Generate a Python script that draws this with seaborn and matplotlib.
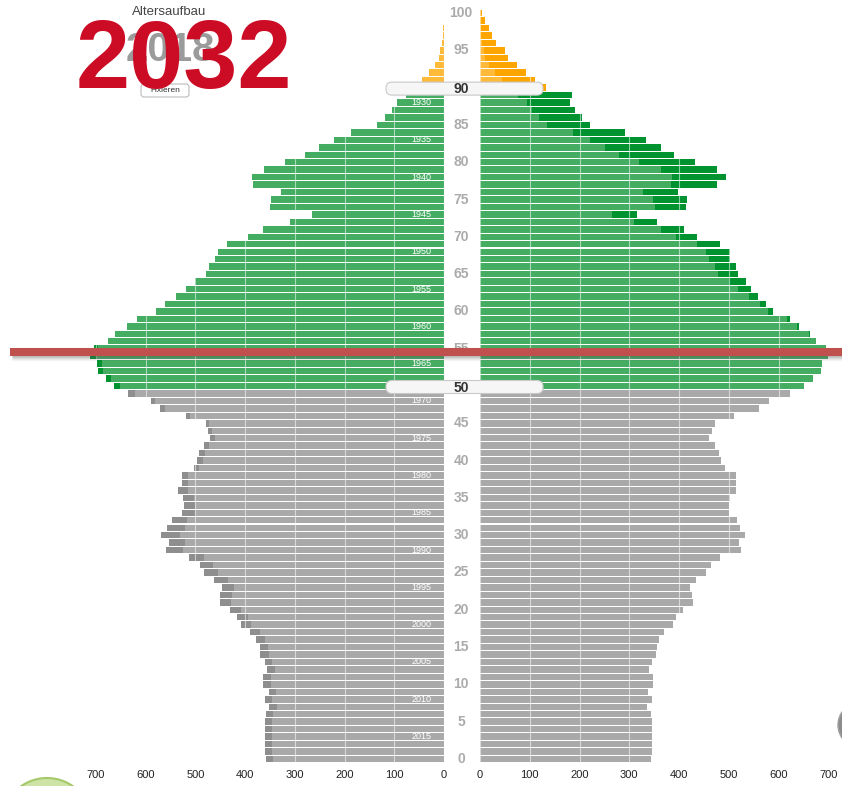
import numpy as np
import pandas as pd
import seaborn as sns
import matplotlib.pyplot as plt
from matplotlib.patches import FancyBboxPatch, Circle
from matplotlib import transforms

# Alter 0..100, Werte in Tausend (links Männer, rechts Frauen)
ages = list(range(0, 101))
men = [359, 360, 360, 361, 360, 360, 359, 352, 360, 353,
       364, 364, 357, 361, 371, 371, 379, 391, 409, 416,
       430, 450, 451, 446, 462, 482, 491, 512, 560, 553,
       569, 558, 547, 528, 524, 525, 536, 528, 528, 503,
       496, 492, 482, 470, 475, 478, 519, 571, 590, 635,
       664, 680, 697, 698, 712, 704, 676, 662, 637, 617,
       579, 562, 540, 518, 500, 478, 472, 460, 454, 436,
       394, 364, 310, 266, 351, 348, 328, 384, 386, 363,
       319, 280, 251, 222, 187, 135, 118, 105, 95, 76,
       58, 45, 31, 18, 11, 8, 5, 3, 3, 1, 1]
women = [343, 345, 345, 345, 345, 345, 343, 336, 345, 338,
         348, 347, 340, 345, 353, 355, 360, 370, 388, 394,
         408, 428, 426, 423, 435, 455, 464, 482, 525, 520,
         532, 522, 517, 500, 500, 502, 514, 514, 515, 492,
         485, 481, 473, 461, 467, 472, 511, 561, 581, 622,
         651, 669, 686, 688, 699, 696, 675, 664, 641, 622,
         588, 574, 559, 544, 535, 518, 515, 503, 502, 482,
         437, 410, 356, 315, 414, 415, 397, 477, 494, 477,
         432, 390, 363, 333, 292, 221, 204, 191, 181, 185,
         132, 110, 92, 75, 57, 50, 33, 25, 19, 10, 4]

value_ticks = [0, 100, 200, 300, 400, 500, 600, 700]
age_ticks = list(range(0, 101, 5))
birth_years = list(range(1930, 2016, 5))
base_year = 2018
shown_year = 2032
slider_ages = [90, 50]
marker_age = 54.6

LIGHT = {"grey": "#A9A9A9", "green": "#45AD62", "orange": "#FFBA3A"}
DARK = {"grey": "#8E8E8E", "green": "#00932F", "orange": "#FFA500"}

W, H = 842, 786


def set_config():
    sns.set_theme(style="white")
    plt.rcParams["font.family"] = ["Liberation Sans", "DejaVu Sans"]


def build_frame():
    df = pd.DataFrame({"age": ages, "men": men, "women": women})
    df["group"] = np.where(df.age >= 90, "orange",
                           np.where(df.age >= 50, "green", "grey"))
    # gemeinsamer Teil hell, Überschuss dunkel
    df["common"] = df[["men", "women"]].min(axis=1)
    return df


def draw_side(ax, df, col, xlim):
    for value, pal in [(col, DARK), ("common", LIGHT)]:
        sns.barplot(data=df, x=value, y="age", hue="group", palette=pal,
                    orient="y", native_scale=True, dodge=False, width=0.86,
                    errorbar=None, saturation=1, legend=False, linewidth=0,
                    ax=ax)
    ax.set_xlim(*xlim)
    ax.set_ylim(-0.5, 100.5)
    ax.set_xticks(value_ticks)
    ax.set_yticks([])
    ax.set_xlabel("")
    ax.set_ylabel("")
    ax.set_axisbelow(False)
    ax.grid(axis="x", color="white", alpha=0.55, lw=0.8)
    ax.grid(axis="y", visible=False)
    ax.tick_params(axis="x", length=0, pad=5, labelsize=8, labelcolor="#222")
    for s in ax.spines.values():
        s.set_visible(False)


def to_px(ax, age):
    # Alter -> Pixelzeile der Overlay-Achse
    return H - ax.transData.transform((0, age))[1]


def main():
    set_config()
    df = build_frame()

    fig = plt.figure(figsize=(W / 100, H / 100), dpi=100)
    bottom, height = (H - 762.7) / H, 753.4 / H
    axl = fig.add_axes([90 / W, bottom, 354 / W, height])
    axr = fig.add_axes([480 / W, bottom, 362 / W, height])
    draw_side(axl, df, "men", (712.1, 0))
    draw_side(axr, df, "women", (0, 727.5))

    # Geburtsjahrgänge in den Balken
    for y in birth_years:
        axl.text(46, base_year - y, str(y), color="white", fontsize=6.5,
                 ha="center", va="center", zorder=5)

    # Altersbeschriftung in der Mitte
    tr = transforms.blended_transform_factory(fig.transFigure, axl.transData)
    for a in age_ticks:
        fig.text(461 / W, a, str(a), transform=tr, ha="center", va="center",
                 fontsize=10, fontweight="bold", color="#ABABAB")

    ov = fig.add_axes([0, 0, 1, 1], zorder=10)
    ov.set_xlim(0, W)
    ov.set_ylim(H, 0)
    ov.axis("off")

    # Schieberegler
    for a in slider_ages:
        yc = to_px(axl, a) + 1
        ov.add_patch(FancyBboxPatch((386, yc - 6.5), 157, 13,
                                    boxstyle="round,pad=0,rounding_size=6",
                                    fc="#F6F6F6", ec="#C9C9C9", lw=0.8))
        ov.text(461, yc + 0.5, str(a), ha="center", va="center", fontsize=10,
                fontweight="bold", color="#333333")

    # rote Markierungslinie mit Schatten
    yr = to_px(axl, marker_age)
    for i, al in enumerate([0.35, 0.25, 0.16, 0.09, 0.04]):
        ov.plot([12, W], [yr + 4.5 + i, yr + 4.5 + i], color="#555555",
                alpha=al, lw=1, solid_capstyle="butt")
    ov.plot([10, W], [yr, yr], color="#C0504D", lw=5.8,
            solid_capstyle="butt")

    # Kopfbereich
    ov.text(169, 12, "Altersaufbau", ha="center", va="center", fontsize=9.5,
            color="#444444")
    ov.text(170, 61, str(base_year), ha="center", va="baseline", fontsize=29,
            fontweight="bold", color="#9B9B9B")
    ov.add_patch(FancyBboxPatch((141, 84), 48, 13,
                                boxstyle="round,pad=0,rounding_size=3",
                                fc="white", ec="#BBBBBB", lw=0.8))
    ov.text(165, 91, "Fixieren", ha="center", va="center", fontsize=6,
            color="#333333")
    ov.text(184, 88, str(shown_year), ha="center", va="baseline", fontsize=70,
            fontweight="bold", color="#CC0C25")

    # angeschnittene Bedienelemente
    ov.add_patch(Circle((47, 823), 45, fc="#CDE4A6", ec="#A5C96A", lw=1.5))
    ov.add_patch(Circle((861, 725), 23, fc="#8C8C8C", ec="#A0A0A0", lw=1))

    fig.savefig("out.png", dpi=100)


if __name__ == "__main__":
    main()
